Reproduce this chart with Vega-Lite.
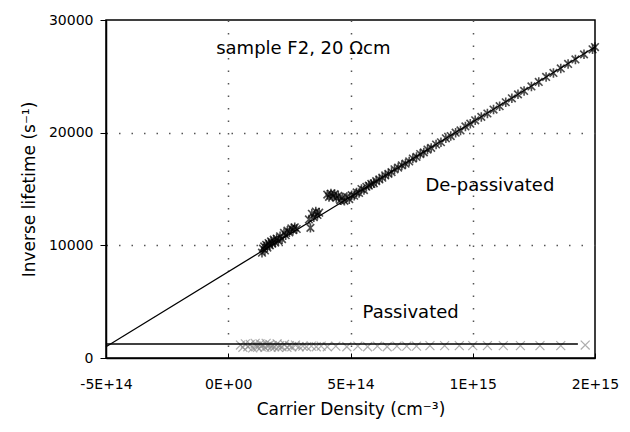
{
  "$schema": "https://vega.github.io/schema/vega-lite/v6.json",
  "width": 489,
  "height": 338,
  "autosize": "none",
  "padding": {"left": 106, "top": 20, "right": 35, "bottom": 74},
  "background": "#ffffff",
  "config": {
    "font": "DejaVu Sans",
    "view": {"stroke": "#000000", "strokeWidth": 1.5}
  },
  "datasets": {
    "xticks": [
      {"x": -4e14}, {"x": -3e14}, {"x": -2e14}, {"x": -1e14}, {"x": 0}, {"x": 1e14}, {"x": 2e14}, {"x": 3e14}, {"x": 4e14},
      {"x": 5e14}, {"x": 6e14}, {"x": 7e14}, {"x": 8e14}, {"x": 9e14}, {"x": 1e15}, {"x": 1.1e15}, {"x": 1.2e15}, {"x": 1.3e15}, {"x": 1.4e15}
    ],
    "passivated": [
      {"x": 5e13, "y": 1150}, {"x": 6e13, "y": 950}, {"x": 7e13, "y": 1250}, {"x": 8e13, "y": 1000},
      {"x": 9e13, "y": 1200}, {"x": 1.0e14, "y": 900}, {"x": 1.1e14, "y": 1300}, {"x": 1.15e14, "y": 1050},
      {"x": 1.2e14, "y": 950}, {"x": 1.3e14, "y": 1250}, {"x": 1.35e14, "y": 1000}, {"x": 1.4e14, "y": 1150},
      {"x": 1.5e14, "y": 950}, {"x": 1.55e14, "y": 1300}, {"x": 1.6e14, "y": 1050}, {"x": 1.7e14, "y": 1200},
      {"x": 1.75e14, "y": 950}, {"x": 1.8e14, "y": 1100}, {"x": 1.9e14, "y": 1000}, {"x": 2.0e14, "y": 1250},
      {"x": 2.05e14, "y": 950}, {"x": 2.1e14, "y": 1100}, {"x": 2.2e14, "y": 1000}, {"x": 2.3e14, "y": 1200},
      {"x": 2.4e14, "y": 950}, {"x": 2.5e14, "y": 1100}, {"x": 2.6e14, "y": 1000}, {"x": 2.75e14, "y": 1150},
      {"x": 2.9e14, "y": 1000}, {"x": 3.05e14, "y": 1050}, {"x": 3.2e14, "y": 1000}, {"x": 3.4e14, "y": 1050},
      {"x": 3.6e14, "y": 1000}, {"x": 3.8e14, "y": 1050}, {"x": 4.05e14, "y": 1000}, {"x": 4.4e14, "y": 1050},
      {"x": 4.85e14, "y": 1000}, {"x": 5.3e14, "y": 1050}, {"x": 5.7e14, "y": 1000}, {"x": 6.1e14, "y": 1050},
      {"x": 6.5e14, "y": 1000}, {"x": 6.9e14, "y": 1050}, {"x": 7.3e14, "y": 1050}, {"x": 7.7e14, "y": 1050},
      {"x": 8.25e14, "y": 1100}, {"x": 8.85e14, "y": 1100}, {"x": 9.45e14, "y": 1100}, {"x": 1.0e15, "y": 1100},
      {"x": 1.06e15, "y": 1100}, {"x": 1.125e15, "y": 1100}, {"x": 1.195e15, "y": 1100}, {"x": 1.275e15, "y": 1100},
      {"x": 1.36e15, "y": 1100}, {"x": 1.46e15, "y": 1150}
    ],
    "depassivated": [
      {"x": 1.38e14, "y": 9350}, {"x": 1.42e14, "y": 9700}, {"x": 1.47e14, "y": 9900}, {"x": 1.50e14, "y": 9550},
      {"x": 1.55e14, "y": 10050}, {"x": 1.60e14, "y": 9800}, {"x": 1.65e14, "y": 10200}, {"x": 1.70e14, "y": 10000},
      {"x": 1.75e14, "y": 10350}, {"x": 1.80e14, "y": 10150}, {"x": 1.86e14, "y": 10500}, {"x": 1.92e14, "y": 10250},
      {"x": 1.98e14, "y": 10600}, {"x": 2.05e14, "y": 10400}, {"x": 2.12e14, "y": 10800}, {"x": 2.20e14, "y": 10550},
      {"x": 2.28e14, "y": 11100}, {"x": 2.35e14, "y": 10900}, {"x": 2.42e14, "y": 11300}, {"x": 2.50e14, "y": 11150},
      {"x": 2.58e14, "y": 11500}, {"x": 2.65e14, "y": 11350}, {"x": 2.72e14, "y": 11600}, {"x": 2.80e14, "y": 11450},
      {"x": 3.30e14, "y": 12300}, {"x": 3.36e14, "y": 11550}, {"x": 3.42e14, "y": 12800}, {"x": 3.50e14, "y": 12500},
      {"x": 3.58e14, "y": 13000}, {"x": 3.65e14, "y": 12700}, {"x": 3.72e14, "y": 12900}, {"x": 4.05e14, "y": 14500},
      {"x": 4.12e14, "y": 14300}, {"x": 4.20e14, "y": 14600}, {"x": 4.28e14, "y": 14350}, {"x": 4.35e14, "y": 14550},
      {"x": 4.42e14, "y": 14200}, {"x": 4.50e14, "y": 14400}, {"x": 4.58e14, "y": 14000}, {"x": 4.66e14, "y": 14250},
      {"x": 4.75e14, "y": 13950}, {"x": 4.85e14, "y": 14300}, {"x": 4.95e14, "y": 14100}, {"x": 5.05e14, "y": 14450},
      {"x": 5.15e14, "y": 14400}, {"x": 5.25e14, "y": 14700}, {"x": 5.35e14, "y": 14650}, {"x": 5.45e14, "y": 15000},
      {"x": 5.55e14, "y": 14900}, {"x": 5.65e14, "y": 15200}, {"x": 5.75e14, "y": 15300}, {"x": 5.85e14, "y": 15450},
      {"x": 5.95e14, "y": 15500}, {"x": 6.05e14, "y": 15700}, {"x": 6.18e14, "y": 15850}, {"x": 6.30e14, "y": 16000},
      {"x": 6.42e14, "y": 16200}, {"x": 6.55e14, "y": 16350}, {"x": 6.68e14, "y": 16500}, {"x": 6.80e14, "y": 16750},
      {"x": 6.95e14, "y": 16900}, {"x": 7.10e14, "y": 17100}, {"x": 7.25e14, "y": 17250}, {"x": 7.40e14, "y": 17450},
      {"x": 7.55e14, "y": 17700}, {"x": 7.70e14, "y": 17850}, {"x": 7.85e14, "y": 18100}, {"x": 8.00e14, "y": 18250},
      {"x": 8.15e14, "y": 18500}, {"x": 8.30e14, "y": 18650}, {"x": 8.50e14, "y": 18950}, {"x": 8.70e14, "y": 19150},
      {"x": 8.90e14, "y": 19500}, {"x": 9.10e14, "y": 19700}, {"x": 9.30e14, "y": 20000}, {"x": 9.50e14, "y": 20200},
      {"x": 9.70e14, "y": 20550}, {"x": 9.90e14, "y": 20800}, {"x": 1.010e15, "y": 21100}, {"x": 1.035e15, "y": 21400},
      {"x": 1.060e15, "y": 21700}, {"x": 1.085e15, "y": 22050}, {"x": 1.110e15, "y": 22350}, {"x": 1.135e15, "y": 22700},
      {"x": 1.160e15, "y": 23050}, {"x": 1.185e15, "y": 23400}, {"x": 1.210e15, "y": 23700}, {"x": 1.240e15, "y": 24100},
      {"x": 1.270e15, "y": 24500}, {"x": 1.300e15, "y": 24950}, {"x": 1.330e15, "y": 25300}, {"x": 1.360e15, "y": 25700},
      {"x": 1.390e15, "y": 26100}, {"x": 1.420e15, "y": 26500}, {"x": 1.455e15, "y": 26950}, {"x": 1.490e15, "y": 27400},
      {"x": 1.500e15, "y": 27600}
    ],
    "passFit": [{"x": -5e14, "y": 1250}, {"x": 1.43e15, "y": 1250}],
    "depassFit": [{"x": -5e14, "y": 1000}, {"x": 1.5e15, "y": 27600}],
    "labels": [
      {"x": 3.07e14, "y": 27400, "label": "sample F2, 20 Ωcm"},
      {"x": 1.07e15, "y": 15260, "label": "De-passivated"},
      {"x": 7.46e14, "y": 3990, "label": "Passivated"}
    ]
  },
  "encoding": {
    "x": {
      "field": "x",
      "type": "quantitative",
      "scale": {"domain": [-500000000000000, 1500000000000000], "nice": false, "zero": false},
      "axis": {
        "title": "Carrier Density (cm⁻³)",
        "titleFont": "DejaVu Sans",
        "titleFontSize": 17,
        "titleFontWeight": "normal",
        "titleColor": "#000000",
        "titlePadding": 10,
        "values": [-500000000000000, 0, 500000000000000, 1000000000000000, 1500000000000000],
        "labelExpr": "datum.value == -500000000000000 ? '-5E+14' : datum.value == 0 ? '0E+00' : datum.value == 500000000000000 ? '5E+14' : datum.value == 1000000000000000 ? '1E+15' : '2E+15'",
        "labelFont": "DejaVu Sans",
        "labelFontSize": 14,
        "labelColor": "#000000",
        "labelFlush": false,
        "labelOverlap": false,
        "labelPadding": 24,
        "ticks": true,
        "tickSize": -5,
        "tickColor": "#000000",
        "tickWidth": 1,
        "domainColor": "#000000",
        "domainWidth": 1.5,
        "grid": true,
        "gridColor": "#555555",
        "gridDash": [1.5, 11],
        "gridWidth": 1.5,
        "gridOpacity": {"condition": {"test": "datum.value == 0 || datum.value == 500000000000000 || datum.value == 1000000000000000", "value": 1}, "value": 0}
      }
    },
    "y": {
      "field": "y",
      "type": "quantitative",
      "scale": {"domain": [0, 30000], "nice": false},
      "axis": {
        "title": "Inverse lifetime (s⁻¹)",
        "titleFont": "DejaVu Sans",
        "titleFontSize": 17,
        "titleFontWeight": "normal",
        "titleColor": "#000000",
        "titlePadding": 10,
        "values": [0, 10000, 20000, 30000],
        "format": "d",
        "labelFont": "DejaVu Sans",
        "labelFontSize": 14,
        "labelColor": "#000000",
        "labelPadding": 7,
        "tickSize": 6,
        "tickColor": "#000000",
        "domainColor": "#000000",
        "domainWidth": 1.5,
        "grid": true,
        "gridColor": "#555555",
        "gridDash": [1.5, 11],
        "gridWidth": 1.5,
        "gridOpacity": {"condition": {"test": "datum.value == 10000 || datum.value == 20000", "value": 1}, "value": 0}
      }
    }
  },
  "layer": [
    {
      "data": {"name": "xticks"},
      "mark": {"type": "rule", "color": "#000000", "strokeWidth": 1},
      "encoding": {"y": {"datum": 0}, "y2": {"datum": 420}}
    },
    {
      "data": {"name": "passivated"},
      "mark": {"type": "point", "shape": "M-1,-1L1,1M-1,1L1,-1", "filled": false, "color": "#8c8c8c", "size": 80, "strokeWidth": 1.2}
    },
    {
      "data": {"name": "passFit"},
      "mark": {"type": "line", "color": "#000000", "strokeWidth": 1.5}
    },
    {
      "data": {"name": "depassivated"},
      "mark": {"type": "point", "shape": "M0,-1L0,1M-0.8,-0.8L0.8,0.8M-0.8,0.8L0.8,-0.8", "filled": false, "color": "#000000", "size": 90, "strokeWidth": 1.6}
    },
    {
      "data": {"name": "depassFit"},
      "mark": {"type": "line", "color": "#000000", "strokeWidth": 1.2}
    },
    {
      "data": {"name": "labels"},
      "mark": {"type": "text", "font": "DejaVu Sans", "fontSize": 18, "color": "#000000", "align": "center", "baseline": "middle"},
      "encoding": {"text": {"field": "label", "type": "nominal"}}
    }
  ]
}
